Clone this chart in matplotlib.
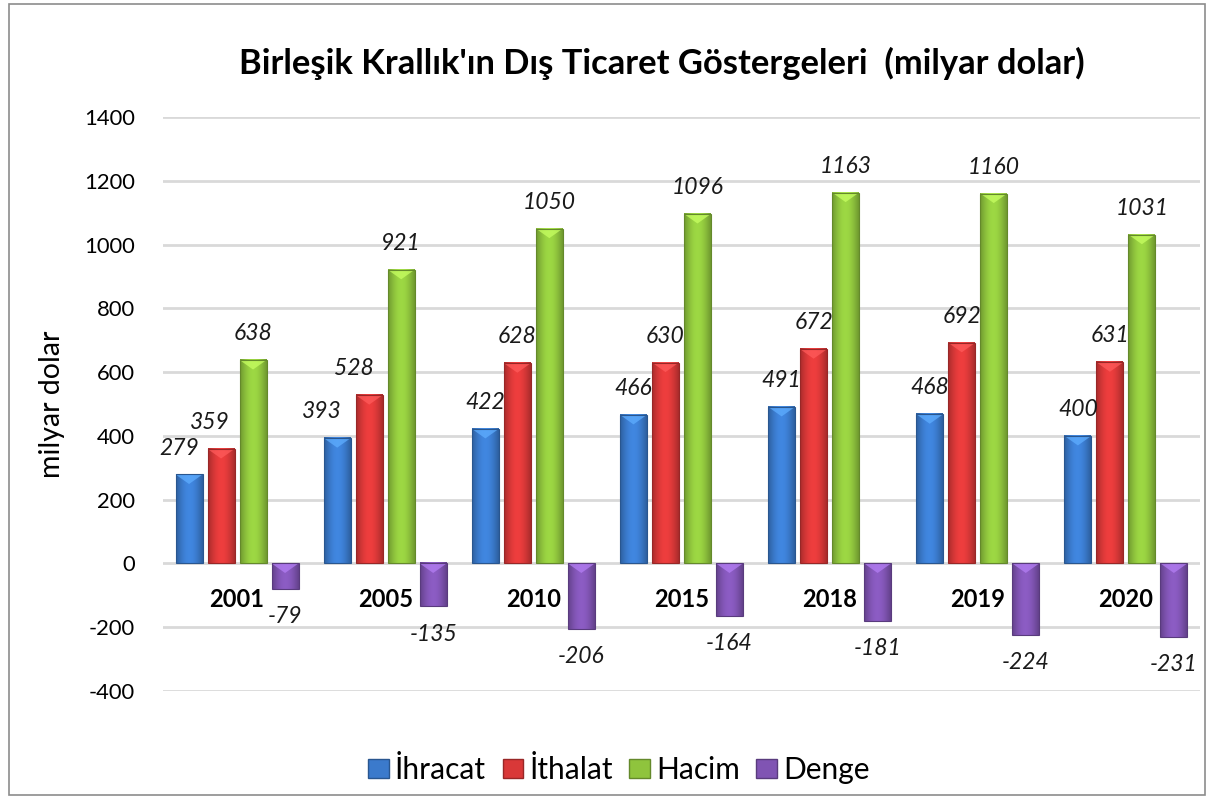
import matplotlib.pyplot as plt
import matplotlib.patches as mpatches
import numpy as np

years = ['2001', '2005', '2010', '2015', '2018', '2019', '2020']
ihracat = [279, 393, 422, 466, 491, 468, 400]
ithalat = [359, 528, 628, 630, 672, 692, 631]
hacim = [638, 921, 1050, 1096, 1163, 1160, 1031]
denge = [-79, -135, -206, -164, -181, -224, -231]
series_names = ['İhracat', 'İthalat', 'Hacim', 'Denge']

plt.rcParams['font.family'] = ['Lato', 'DejaVu Sans']
plt.rcParams['axes.unicode_minus'] = False

colors = [(0.23, 0.48, 0.80), (0.85, 0.22, 0.22), (0.56, 0.77, 0.24), (0.50, 0.33, 0.70)]

# labels that were nudged left in the original (series index, year index) -> points
label_nudge = {(0, 0): -7, (1, 0): -8, (0, 1): -11, (1, 1): -11}


def gradient_bar(ax, rect, base, bevel):
    # horizontal shading: darker edges, lighter middle
    x, y = rect.get_x(), rect.get_y()
    w, h = rect.get_width(), rect.get_height()
    y0, y1 = min(y, y + h), max(y, y + h)
    t = np.linspace(0, 1, 64)
    f = 0.78 + 0.32 * np.sin(np.pi * t)
    rgb = np.clip(np.outer(f, base), 0, 1)[None, :, :]
    ax.imshow(rgb, extent=[x, x + w, y0, y1], aspect='auto',
              interpolation='bilinear', zorder=3)
    # light bevel triangle at the upper end
    light = tuple(min(1, c * 1.25 + 0.08) for c in base)
    ax.add_patch(mpatches.Polygon([(x, y1), (x + w, y1), (x + w / 2, y1 - bevel)],
                                  closed=True, facecolor=light, edgecolor='none',
                                  alpha=0.75, zorder=3.5))
    edge = tuple(c * 0.7 for c in base)
    ax.add_patch(mpatches.Rectangle((x, y0), w, y1 - y0, fill=False, edgecolor=edge,
                                    linewidth=0.8, zorder=4))


fig = plt.figure(figsize=(12.1, 7.99), dpi=100)
ax = fig.add_axes([0.1347, 0.1352, 0.857, 0.7184])

x = np.arange(len(years))
step = 0.216
width = 0.182
all_series = [ihracat, ithalat, hacim, denge]

for i, vals in enumerate(all_series):
    pos = x + (i - 1.5) * step
    bars = ax.bar(pos, vals, width, color='none', edgecolor='none', zorder=3)
    for j, (rect, v) in enumerate(zip(bars, vals)):
        gradient_bar(ax, rect, colors[i], min(30, abs(v) * 0.45))
        off = 19 if v >= 0 else -20
        ax.annotate(str(v), (rect.get_x() + rect.get_width() / 2, v),
                    xytext=(label_nudge.get((i, j), 0), off), textcoords='offset points',
                    ha='center', va='center', fontsize=16.5, style='italic',
                    color='#1a1a1a', zorder=5)

# category labels along the zero line
for xi, yr in zip(x, years):
    ax.text(xi, -113, yr, ha='center', va='center', fontsize=17,
            fontweight='bold', color='black', zorder=5)

ax.set_xlim(-0.5, len(years) - 0.5)
ax.set_ylim(-400, 1400)
ax.set_yticks(np.arange(-400, 1401, 200))
ax.set_xticks([])
ax.tick_params(axis='y', length=0, labelsize=15.8, pad=20)
for s in ax.spines.values():
    s.set_visible(False)
ax.yaxis.grid(True, color='#d9d9d9', linewidth=2)
ax.set_axisbelow(True)
ax.set_ylabel('milyar dolar', fontsize=20.5, labelpad=14)

fig.text(0.547, 0.921, "Birleşik Krallık'ın Dış Ticaret Göstergeleri  (milyar dolar)",
         ha='center', va='center', fontsize=24.8, fontweight='bold')

handles = [mpatches.Patch(facecolor=c, edgecolor=tuple(v * 0.7 for v in c)) for c in colors]
fig.legend(handles, series_names, loc='center', bbox_to_anchor=(0.5116, 1 - 770 / 799),
           ncol=4, frameon=False, fontsize=21.5, handlelength=0.7, handleheight=0.6,
           handletextpad=0.2, columnspacing=0.55)

fig.add_artist(mpatches.Rectangle((9 / 1210, 4 / 799), 1196 / 1210, 791 / 799,
                                  transform=fig.transFigure, fill=False,
                                  edgecolor='#8c8c8c', linewidth=1.2))

fig.savefig('out.png', dpi=100)
